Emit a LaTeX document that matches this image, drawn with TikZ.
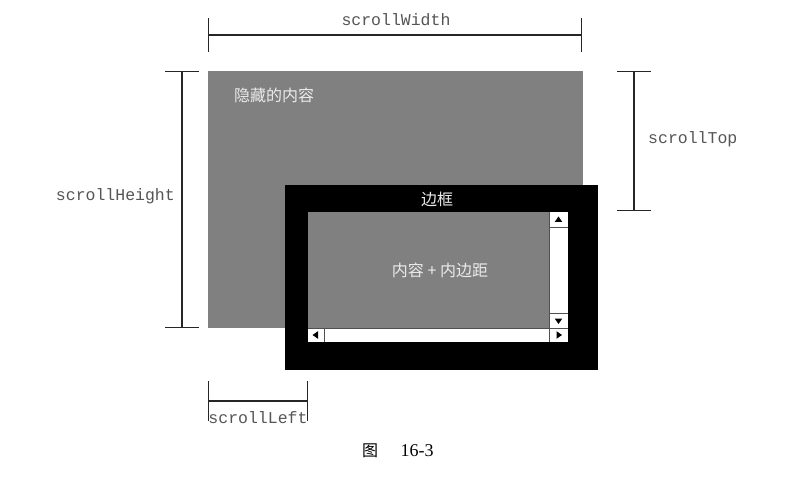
\documentclass[tikz,border=0pt]{standalone}
\usepackage{fontspec}
\setmainfont{Liberation Serif}
\setmonofont{Liberation Mono}
\newfontfamily\cjk{Noto Sans CJK SC}
\usetikzlibrary{arrows.meta,positioning}
\definecolor{hidden}{HTML}{808080}
\definecolor{dimtext}{HTML}{555555}
\definecolor{sbedge}{HTML}{505050}

\begin{document}
\begin{tikzpicture}[x=1pt,y=-1pt,
  dimline/.style={draw=black!85, line width=1.1pt},
  dimlabel/.style={font=\ttfamily\fontsize{16.5}{18}\selectfont, text=dimtext, inner sep=1pt},
  cjktext/.style={font=\cjk\fontsize{16}{18}\selectfont, text=white!92!black, inner sep=0pt},
  sbline/.style={draw=sbedge, line width=1pt}]
\useasboundingbox (0,0) rectangle (792,478);
% small scroll arrow: x / y / direction
\def\Arr#1#2#3{\fill[black, shift={(#1,#2)}, rotate=#3] (3.5,0) -- (-2,3.8) -- (-2,-3.8) -- cycle;}
% hidden content
\fill[hidden] (208,71) rectangle (583,328);
\node[cjktext, anchor=west] (hid) at (234,95) {隐藏的内容};
% border box with content + padding
\fill[black] (285,185) rectangle (598,370);
\node[cjktext] (bd) at (437,199) {边框};
\fill[hidden] (308,212) rectangle (549,328);
\node[cjktext] (cp) at (440,270) {内容 + 内边距};
% scroll bars
\fill[white] (549,212) rectangle (568,328);
\fill[white] (308,328) rectangle (568,342);
\draw[sbline] (549,212) -- (549,342);
\draw[sbline] (308,328) -- (568,328);
\draw[sbline] (549,228) -- (568,228);
\draw[sbline] (549,313) -- (568,313);
\draw[sbline] (324,328) -- (324,342);
\Arr{558.5}{220}{90} \Arr{558.5}{320.5}{-90}
\Arr{316}{335}{180}  \Arr{558.5}{335}{0}
% dimension lines
\coordinate (sw-l) at (208,35);  \coordinate (sw-r) at (582,35);
\coordinate (sh-t) at (182,71);  \coordinate (sh-b) at (182,328);
\coordinate (st-t) at (634,71);  \coordinate (st-b) at (634,211);
\coordinate (sl-l) at (208,401); \coordinate (sl-r) at (308,401);
\draw[dimline, {Bar[width=34pt]}-{Bar[width=34pt]}] (sw-l) -- (sw-r);
\draw[dimline, {Bar[width=34pt]}-{Bar[width=34pt]}] (sh-t) -- (sh-b);
\draw[dimline, {Bar[width=34pt]}-{Bar[width=34pt]}] (st-t) -- (st-b);
\draw[dimline, {Bar[width=40pt]}-{Bar[width=40pt]}] (sl-l) -- (sl-r);
\node[dimlabel] (swl) at (396,20) {scrollWidth};
\node[dimlabel, anchor=east] (shl) at (176,196) {scrollHeight};
\node[dimlabel, anchor=west] (stl) at (647,139) {scrollTop};
\node[dimlabel] (sll) at (258,418) {scrollLeft};
% caption
\node[font=\cjk\fontsize{16}{18}\selectfont] (fig) at (370,451) {图};
\node[font=\fontsize{18}{20}\selectfont, anchor=west] (fignum) at (397,451) {16-3};
\end{tikzpicture}
\end{document}
